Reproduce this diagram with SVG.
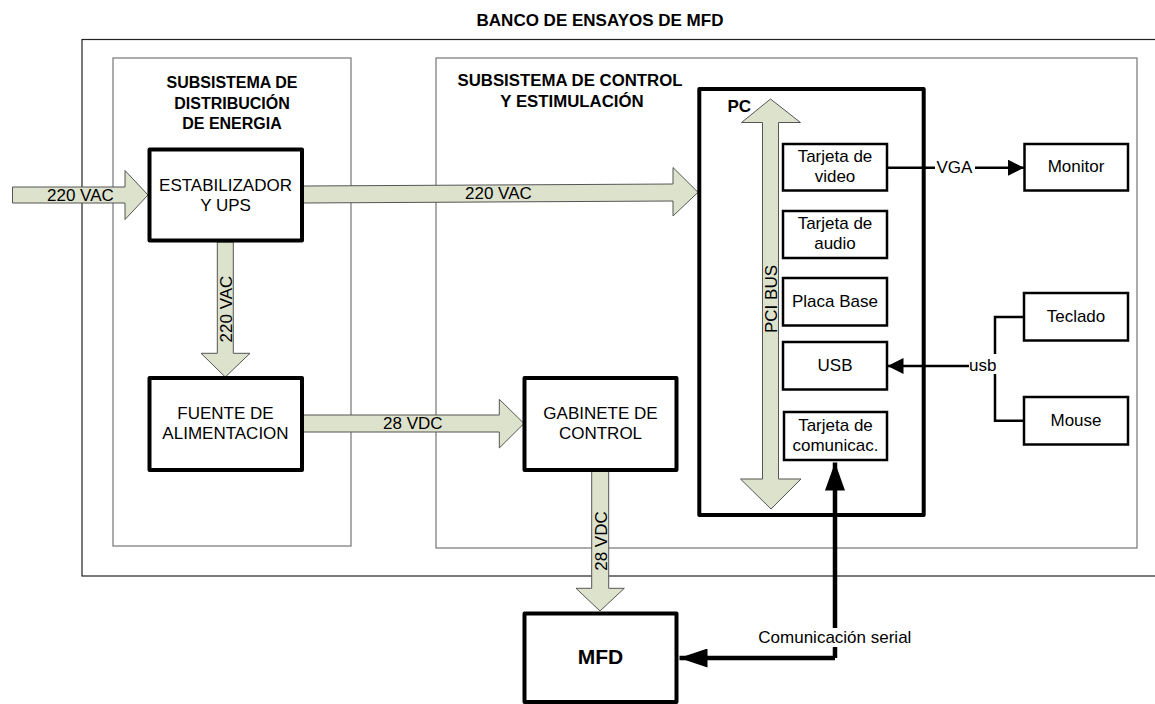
<svg xmlns="http://www.w3.org/2000/svg" width="1155" height="704" viewBox="0 0 1155 704">
<style>
text{font-family:"Liberation Sans",Arial,sans-serif;fill:#000}
.r{font-size:17px}
.t{font-size:17px;text-anchor:middle}
.b{font-size:16px;font-weight:bold;text-anchor:middle}
.b2{font-size:16.8px;font-weight:bold;text-anchor:middle}
.frame{fill:none;stroke:#808080;stroke-width:1.3}
.box{fill:#fff;stroke:#000;stroke-width:4;stroke-linejoin:round}
.sub{fill:#fff;stroke:#000;stroke-width:2.5}
.big{fill:#dde2cd;stroke:#555;stroke-width:1}
.ln{fill:none;stroke:#000;stroke-width:2.5}
.thk{fill:none;stroke:#000;stroke-width:4.5}
</style>
<defs>
<marker id="ah" viewBox="0 0 16 16" refX="16" refY="8" markerWidth="16" markerHeight="16" markerUnits="userSpaceOnUse" orient="auto"><path d="M0,0L16,8L0,16z" fill="#000"/></marker>
<marker id="ah2" viewBox="0 0 28 20" refX="28" refY="10" markerWidth="28" markerHeight="20" markerUnits="userSpaceOnUse" orient="auto"><path d="M0,0L28,10L0,20z" fill="#000"/></marker>
<marker id="ah3" viewBox="0 0 28 19" refX="28" refY="9.5" markerWidth="28" markerHeight="19" markerUnits="userSpaceOnUse" orient="auto"><path d="M0,0L28,9.5L0,19z" fill="#000"/></marker>
</defs>
<g id="frames">
<rect x="82" y="39.5" width="1100" height="536.5" fill="none" stroke="#222" stroke-width="1.2"/>
<text x="600" y="26" font-size="17" font-weight="bold" text-anchor="middle">BANCO DE ENSAYOS DE MFD</text>
<rect class="frame" x="113" y="58" width="238" height="488"/>
<text class="b" x="232" y="88.3">SUBSISTEMA DE</text>
<text class="b" x="232" y="109">DISTRIBUCIÓN</text>
<text class="b" x="232" y="129">DE ENERGIA</text>
<rect class="frame" x="436" y="58" width="701" height="490"/>
<text class="b2" x="570" y="86">SUBSISTEMA DE CONTROL</text>
<text class="b2" x="572" y="106.7">Y ESTIMULACIÓN</text>
</g>
<g id="connectors">
<polygon class="big" points="12.5,187 125,187 125,170.5 148,195 125,219.5 125,203 12.5,203"/>
<text class="r" x="47" y="201">220 VAC</text>
<polygon class="big" points="302,186 673,184 673,167.5 698,192.3 673,216 673,201 302,203"/>
<text class="r" x="465" y="199">220 VAC</text>
<polygon class="big" points="217.3,242 233.3,242 233.3,353.3 250,353.3 225.3,377 201,353.3 217.3,353.3"/>
<text class="t" transform="translate(231.5,309) rotate(-90)">220 VAC</text>
<polygon class="big" points="302,415 499.3,415 499.3,399.3 524,423.5 499.3,448 499.3,432 302,432"/>
<text class="r" x="383" y="428.5">28 VDC</text>
<polygon class="big" points="591.7,471 608.7,471 608.7,588.3 624.3,588.3 600,611 576,588.3 591.7,588.3"/>
<text class="t" transform="translate(606.5,541) rotate(-90)">28 VDC</text>
<polygon class="big" points="762.5,122.5 741.5,122.5 770.5,99 800.5,122.5 778.5,122.5 778.5,479 801,479 771,509 740.5,479 762.5,479"/>
<text class="t" transform="translate(777,299) rotate(-90)">PCI BUS</text>
<path class="ln" d="M887,167.7H1024" marker-end="url(#ah)"/>
<rect x="935" y="157" width="40" height="20" fill="#fff"/>
<text class="r" x="936.5" y="172.5">VGA</text>
<path class="ln" d="M1024,317H995V420.7H1024"/>
<path class="ln" d="M969,366H887.5" marker-end="url(#ah)"/>
<rect x="969" y="354" width="28" height="20" fill="#fff"/>
<text class="r" x="969" y="370.7">usb</text>
<path class="thk" d="M835,658V462.5" marker-end="url(#ah2)"/>
<path class="thk" d="M835,658H679.5" marker-end="url(#ah3)"/>
<rect x="757" y="628" width="158" height="19" fill="#fff"/>
<text class="r" x="758.3" y="643.3">Comunicación serial</text>
</g>
<g id="estabilizador">
<rect class="box" x="149.5" y="149.5" width="152.5" height="91"/>
<text class="t" x="225.5" y="190.7">ESTABILIZADOR</text>
<text class="t" x="225.5" y="211">Y UPS</text>
</g>
<g id="fuente">
<rect class="box" x="149.5" y="378" width="152.5" height="92"/>
<text class="t" x="225.5" y="419">FUENTE DE</text>
<text class="t" x="225.5" y="439.3">ALIMENTACION</text>
</g>
<g id="gabinete">
<rect class="box" x="524.5" y="378" width="152" height="92"/>
<text class="t" x="600.5" y="419">GABINETE DE</text>
<text class="t" x="600.5" y="439">CONTROL</text>
</g>
<g id="mfd">
<rect class="box" x="524.5" y="613.5" width="152" height="88.5"/>
<text x="600.5" y="664.3" font-size="21" font-weight="bold" text-anchor="middle">MFD</text>
</g>
<g id="pc">
<rect class="box" x="699.3" y="89" width="224.4" height="426" style="fill:none"/>
<text x="727.5" y="111.7" font-size="17" font-weight="bold">PC</text>
</g>
<g id="video">
<rect class="sub" x="783" y="144" width="104" height="46.5"/>
<text class="t" x="835" y="162.3">Tarjeta de</text>
<text class="t" x="835" y="182.3">video</text>
</g>
<g id="audio">
<rect class="sub" x="783" y="211" width="104" height="47"/>
<text class="t" x="835" y="229">Tarjeta de</text>
<text class="t" x="835" y="249">audio</text>
</g>
<g id="placa">
<rect class="sub" x="783" y="278" width="104" height="47.5"/>
<text class="t" x="835" y="306.7">Placa Base</text>
</g>
<g id="usb">
<rect class="sub" x="783" y="342" width="104" height="47.5"/>
<text class="t" x="835" y="371">USB</text>
</g>
<g id="comunicac">
<rect class="sub" x="784" y="412" width="103" height="48"/>
<text class="t" x="835.5" y="430.7">Tarjeta de</text>
<text class="t" x="835.5" y="450.7">comunicac.</text>
</g>
<g id="monitor">
<rect class="sub" x="1024.5" y="144" width="103.5" height="46.5"/>
<text class="t" x="1076" y="172.3">Monitor</text>
</g>
<g id="teclado">
<rect class="sub" x="1024" y="293" width="104" height="47.5"/>
<text class="t" x="1076" y="321.7">Teclado</text>
</g>
<g id="mouse">
<rect class="sub" x="1024" y="397" width="104" height="47.5"/>
<text class="t" x="1076" y="425.7">Mouse</text>
</g>
</svg>
